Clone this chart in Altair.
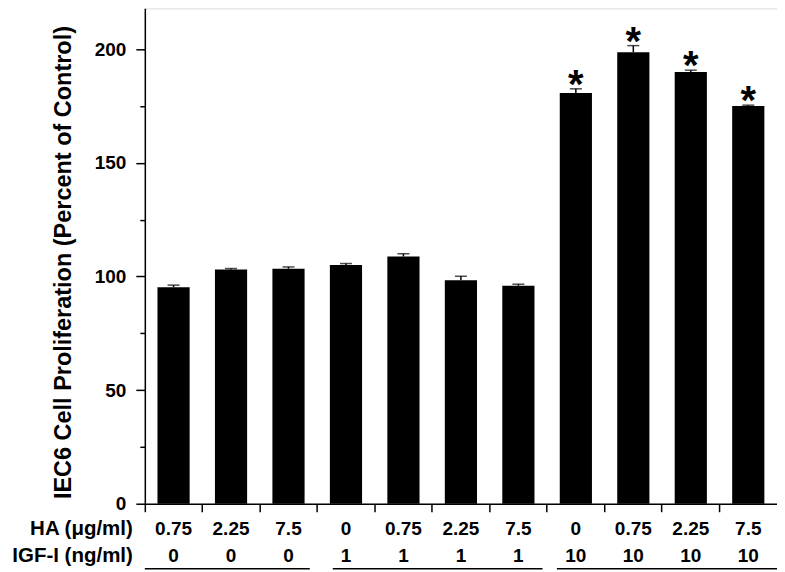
import altair as alt
import pandas as pd

HA = ["0.75", "2.25", "7.5", "0", "0.75", "2.25", "7.5", "0", "0.75", "2.25", "7.5"]
IGF = ["0", "0", "0", "1", "1", "1", "1", "10", "10", "10", "10"]
VALUES = [95.3, 103.1, 103.4, 105.1, 108.8, 98.4, 95.9, 180.8, 198.7, 190.0, 175.0]
ERRORS = [0.9, 0.4, 0.8, 0.6, 1.2, 1.7, 0.7, 1.8, 2.9, 0.8, 0.4]
STARS = ["", "", "", "", "", "", "", "*", "*", "*", "*"]
GROUPS = [(0, 2), (3, 6), (7, 10)]
Y_TITLE = "IEC6 Cell Proliferation (Percent of Control)"
ROW_LABELS = ["HA (\u03bcg/ml)", "IGF-I (ng/ml)"]

W, H = 633, 496
FONT = "Liberation Sans"
LABEL_SIZE = 19
ROW_Y = [H + 25, H + 52]
cats = [f"c{i}" for i in range(len(VALUES))]

df = pd.DataFrame({
    "cat": cats, "ha": HA, "igf": IGF, "value": VALUES,
    "upper": [v + e for v, e in zip(VALUES, ERRORS)], "star": STARS,
})

xscale = alt.Scale(domain=cats, paddingInner=0, paddingOuter=0)
yscale = alt.Scale(domain=[0, 218], nice=False)
minor_vals = [i * 12.5 for i in range(18)]

x_axis = alt.Axis(bandPosition=0, labels=False, title=None, tickSize=8, tickWidth=1.5,
                  tickColor="black", domainColor="black", domainWidth=1.5, grid=False)
y_axis = alt.Axis(
    values=minor_vals,
    labelExpr="datum.value % 50 === 0 ? datum.label : ''",
    tickSize={"condition": {"test": "datum.value % 50 === 0", "value": 9}, "value": 5},
    tickWidth=1.5, tickColor="black", domainColor="black", domainWidth=1.5,
    labelFontSize=LABEL_SIZE, labelFontWeight="bold", labelColor="black", labelPadding=10,
    labelFont=FONT, grid=False,
    title=Y_TITLE, titleFontSize=23.5, titleFontWeight="bold", titleFont=FONT,
    titleColor="black", titleAngle=270, titleX=-74, titleY=254,
    titleAlign="center", titleBaseline="alphabetic",
)

base = alt.Chart(df)
bars = base.mark_bar(color="black", width=alt.RelativeBandSize(0.56)).encode(
    x=alt.X("cat:N", scale=xscale, axis=x_axis),
    y=alt.Y("value:Q", scale=yscale, axis=y_axis),
)
whisk = base.mark_rule(color="black", strokeWidth=1.5).encode(
    x=alt.X("cat:N", scale=xscale), y=alt.Y("value:Q", scale=yscale), y2="upper:Q"
)
caps = base.mark_tick(color="black", thickness=1.5, size=12, orient="horizontal").encode(
    x=alt.X("cat:N", scale=xscale), y=alt.Y("upper:Q", scale=yscale)
)
stars = base.mark_text(fontSize=40, fontWeight="bold", font=FONT, baseline="alphabetic",
                       dy=9, color="black").encode(
    x=alt.X("cat:N", scale=xscale), y=alt.Y("upper:Q", scale=yscale), text="star:N"
)
ha_row = base.mark_text(fontSize=LABEL_SIZE, fontWeight="bold", font=FONT, baseline="middle",
                        color="black").encode(
    x=alt.X("cat:N", scale=xscale), y=alt.value(ROW_Y[0]), text="ha:N"
)
igf_row = base.mark_text(fontSize=LABEL_SIZE, fontWeight="bold", font=FONT, baseline="middle",
                         color="black").encode(
    x=alt.X("cat:N", scale=xscale), y=alt.value(ROW_Y[1]), text="igf:N"
)
lab_df = pd.DataFrame({"label": ROW_LABELS, "row": [0, 1]})
row_labels = []
for i, lab in enumerate(ROW_LABELS):
    row_labels.append(
        alt.Chart(lab_df[lab_df.row == i]).mark_text(
            fontSize=20.5, fontWeight="bold", font=FONT, align="right", baseline="middle",
            color="black").encode(
            x=alt.value(-12), y=alt.value(ROW_Y[i]), text="label:N")
    )

start_bp = [0.0, 0.27, 0.17]
end_bp = [0.87, 0.92, 1.0]
lines = []
for gi, (s, e) in enumerate(GROUPS):
    gdf = pd.DataFrame({"s": [cats[s]], "e": [cats[e]]})
    lines.append(
        alt.Chart(gdf).mark_rule(color="black", strokeWidth=1.5).encode(
            x=alt.X("s:N", scale=xscale, bandPosition=start_bp[gi]),
            x2=alt.X2("e", bandPosition=end_bp[gi]),
            y=alt.value(H + 65),
        )
    )

chart = alt.layer(bars, whisk, caps, stars, ha_row, igf_row, *row_labels, *lines).properties(
    width=W, height=H,
    autosize=alt.AutoSizeParams(type="none"),
    padding={"left": 137, "top": 0, "right": 0, "bottom": 70},
).configure_view(stroke="black", strokeWidth=1.5).configure(font=FONT)

chart.save("out.html", embed_options={"renderer": "svg", "actions": False})
